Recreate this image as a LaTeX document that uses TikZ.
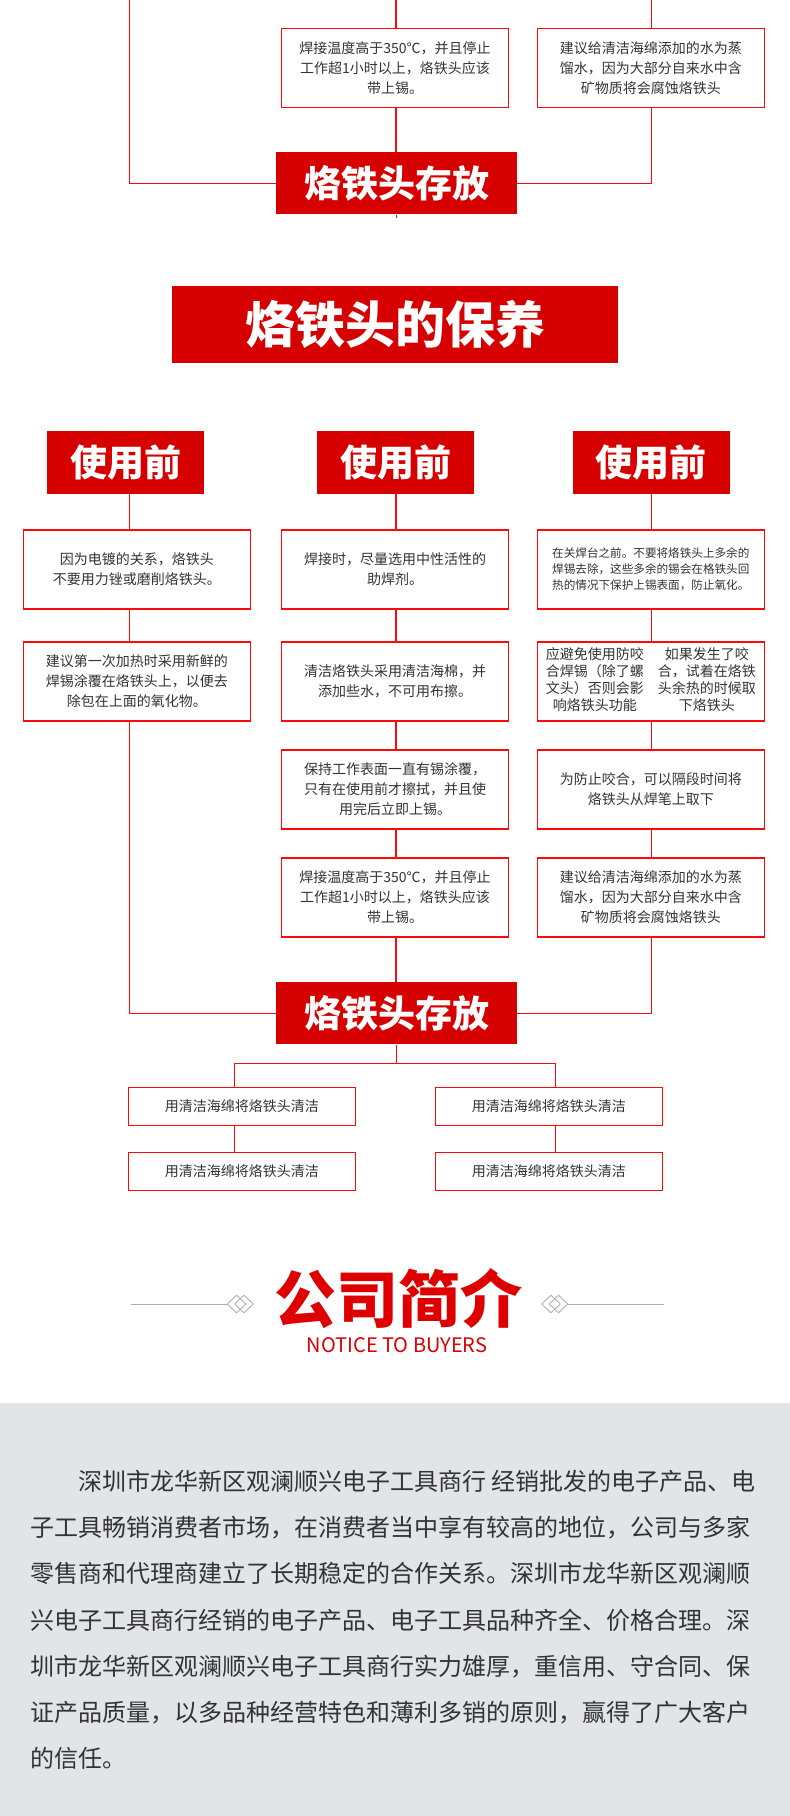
\documentclass[tikz,border=0pt]{standalone}
\usepackage{fontspec}
\setmainfont{Noto Sans CJK SC}
\usepackage{tikz}
\usetikzlibrary{positioning,shapes.geometric}

\definecolor{tagred}{RGB}{215,0,0}
\definecolor{linered}{RGB}{250,10,10}
\definecolor{inkgray}{RGB}{51,51,51}
\definecolor{rulegray}{RGB}{175,175,175}
\definecolor{panelgray}{RGB}{227,228,232}
\definecolor{headred}{RGB}{222,0,0}

\begin{document}
\begin{tikzpicture}[
  x=1pt, y=-1pt,
  link/.style={draw=linered, line width=1.4pt},
  tipbox/.style={draw=linered, line width=1.4pt, fill=white, align=center, text=inkgray, inner sep=0pt, minimum width=227pt, minimum height=79pt, font=\fontsize{14}{20}\selectfont},
  redtag/.style={fill=tagred, text=white, inner sep=0pt, minimum width=157pt, minimum height=63pt, font=\bfseries\fontsize{37}{37}\selectfont},
  storebox/.style={redtag, minimum width=241pt, minimum height=62pt},
  washbox/.style={tipbox, minimum height=38pt},
  gemnode/.style={diamond, draw=rulegray, line width=0.9pt, inner sep=0pt, minimum width=19pt, minimum height=18pt},
  orn/.style={draw=rulegray, line width=0.9pt}
]
\useasboundingbox (0,0) rectangle (790,1816);
\fill[panelgray] (0,1403) rectangle (790,1816);

\coordinate (lx) at (129.3,0);
\coordinate (mx) at (396,0);
\coordinate (rx) at (651.5,0);

% tail of the previous chart
\node[tipbox] (t2) at (395,67.8) {焊接温度高于350℃，并且停止\\工作超1小时以上，烙铁头应该\\带上锡。};
\node[tipbox] (t3) at (650.8,67.8) {建议给清洁海绵添加的水为蒸\\馏水，因为大部分自来水中含\\矿物质将会腐蚀烙铁头};
\node[storebox] (tstore) at (396.5,183.3) {烙铁头存放};
\coordinate (tend) at (396.5,218);

\draw[link] (lx) |- (tstore.west);
\draw[link] (mx) -- (t2.north -| mx);
\draw[link] (t2.south -| mx) -- (tstore.north -| mx);
\draw[link] (rx) -- (t3.north -| rx);
\draw[link] (t3.south -| rx) |- (tstore.east);
\draw[link] (tstore.south) -- (tend);

\node[fill=tagred, text=white, minimum width=446pt, minimum height=77pt, inner sep=0pt, font=\bfseries\fontsize{50}{50}\selectfont] (title) at (395,324.5) {烙铁头的保养};

\node[redtag] (u1) at (125.5,462.5) {使用前};
\node[redtag] (u2) at (395.5,462.5) {使用前};
\node[redtag] (u3) at (651.3,462.5) {使用前};

\node[tipbox] (a1) at (136.8,569.5) {因为电镀的关系，烙铁头\\不要用力锉或磨削烙铁头。};
\node[tipbox, below=31.6pt of a1] (a2) {建议第一次加热时采用新鲜的\\焊锡涂覆在烙铁头上，以便去\\除包在上面的氧化物。};

\node[tipbox] (b1) at (395,569.5) {焊接时，尽量选用中性活性的\\助焊剂。};
\node[tipbox, below=31.6pt of b1] (b2) {清洁烙铁头采用清洁海棉，并\\添加些水，不可用布擦。};
\node[tipbox, below=27.6pt of b2] (b3) {保持工作表面一直有锡涂覆，\\只有在使用前才擦拭，并且使\\用完后立即上锡。};
\node[tipbox, below=27.6pt of b3] (b4) {焊接温度高于350℃，并且停止\\工作超1小时以上，烙铁头应该\\带上锡。};

\node[tipbox, font=\fontsize{11.6}{16}\selectfont] (c1) at (650.8,569.5) {在关焊台之前。不要将烙铁头上多余的\\焊锡去除，这些多余的锡会在格铁头回\\热的情况下保护上锡表面，防止氧化。};
\node[tipbox, below=31.6pt of c1, font=\fontsize{14}{16}\selectfont] (c2) {\begin{tabular}{@{}c@{\hspace{14pt}}c@{}}
应避免使用防咬 & 如果发生了咬\\
合焊锡（除了螺 & 合，试着在烙铁\\
文头）否则会影 & 头余热的时候取\\
响烙铁头功能 & 下烙铁头
\end{tabular}};
\node[tipbox, below=27.6pt of c2] (c3) {为防止咬合，可以隔段时间将\\烙铁头从焊笔上取下};
\node[tipbox, below=27.6pt of c3] (c4) {建议给清洁海绵添加的水为蒸\\馏水，因为大部分自来水中含\\矿物质将会腐蚀烙铁头};

\node[storebox] (store) at (396.5,1013.3) {烙铁头存放};

\draw[link] (u1.south -| lx) -- (a1.north -| lx);
\draw[link] (a1.south -| lx) -- (a2.north -| lx);
\draw[link] (a2.south -| lx) |- (store.west);

\draw[link] (u2.south -| mx) -- (b1.north -| mx);
\draw[link] (b1.south -| mx) -- (b2.north -| mx);
\draw[link] (b2.south -| mx) -- (b3.north -| mx);
\draw[link] (b3.south -| mx) -- (b4.north -| mx);
\draw[link] (b4.south -| mx) -- (store.north -| mx);

\draw[link] (u3.south -| rx) -- (c1.north -| rx);
\draw[link] (c1.south -| rx) -- (c2.north -| rx);
\draw[link] (c2.south -| rx) -- (c3.north -| rx);
\draw[link] (c3.south -| rx) -- (c4.north -| rx);
\draw[link] (c4.south -| rx) |- (store.east);

% storage: cleaning steps
\coordinate (fork) at (396.5,1063.3);
\coordinate (wl) at (234.3,1063.3);
\coordinate (wr) at (555.3,1063.3);
\node[washbox] (w1) at (241.8,1106.3) {用清洁海绵将烙铁头清洁};
\node[washbox, below=25.6pt of w1] (w2) {用清洁海绵将烙铁头清洁};
\node[washbox] (w3) at (548.8,1106.3) {用清洁海绵将烙铁头清洁};
\node[washbox, below=25.6pt of w3] (w4) {用清洁海绵将烙铁头清洁};

\draw[link] (store.south) -- (fork);
\draw[link] (wl) -- (wr);
\draw[link] (wl) -- (w1.north -| wl);
\draw[link] (w1.south -| wl) -- (w2.north -| wl);
\draw[link] (wr) -- (w3.north -| wr);
\draw[link] (w3.south -| wr) -- (w4.north -| wr);

% company heading
\node[text=headred, inner sep=0pt, font=\bfseries\fontsize{62}{62}\selectfont] (about) at (398.3,1298.5) {公司简介};
\node[text=headred, inner sep=0pt, font=\fontsize{20}{20}\selectfont] (notice) at (397,1345.5) {NOTICE TO BUYERS};
\node[gemnode] (gl1) at (236.5,1304) {};
\node[gemnode] (gl2) at (244,1304) {};
\node[gemnode] (gr1) at (551,1304) {};
\node[gemnode] (gr2) at (558.5,1304) {};
\coordinate (rl) at (131,1304);
\coordinate (rr) at (664,1304);
\draw[orn] (rl) -- (gl1.west);
\draw[orn] (gr2.east) -- (rr);

\node[anchor=north west, inner sep=0pt, align=left, text=inkgray, font=\fontsize{24}{46.2}\selectfont] (intro) at (30,1470) {\hspace*{48pt}深圳市龙华新区观澜顺兴电子工具商行 经销批发的电子产品、电\\子工具畅销消费者市场，在消费者当中享有较高的地位，公司与多家\\零售商和代理商建立了长期稳定的合作关系。深圳市龙华新区观澜顺\\兴电子工具商行经销的电子产品、电子工具品种齐全、价格合理。深\\圳市龙华新区观澜顺兴电子工具商行实力雄厚，重信用、守合同、保\\证产品质量，以多品种经营特色和薄利多销的原则，赢得了广大客户\\的信任。};
\end{tikzpicture}
\end{document}
